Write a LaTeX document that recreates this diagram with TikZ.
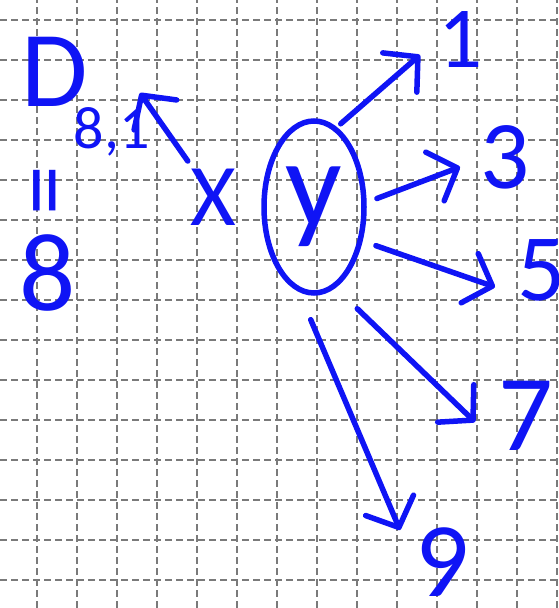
\documentclass[tikz,border=0pt]{standalone}
\usepackage{fontspec}
\setmainfont{Carlito}
\usetikzlibrary{arrows.meta,positioning,shapes.geometric}
\definecolor{ink}{HTML}{0F14F5}
\definecolor{gridgray}{HTML}{7A7A7A}

\begin{document}
\begin{tikzpicture}[x=1pt,y=1pt,
  handtext/.style={text=ink,inner sep=1pt},
  handarrow/.style={ink,line width=5.5pt,line cap=round,-{Straight Barb[length=24pt,width=52pt,round]}}]
\useasboundingbox (0,0) rectangle (558,608);
\fill[white] (0,0) rectangle (558,608);
% squared paper
\foreach \g in {0,...,13}{\draw[gridgray,line width=1.6pt,dash pattern=on 7pt off 4pt] (36.7+40*\g,0)--(36.7+40*\g,608);}
\foreach \g in {0,...,14}{\draw[gridgray,line width=1.6pt,dash pattern=on 7pt off 4pt] (0,588-40*\g)--(558,588-40*\g);}
% the circled y
\node[draw=ink,line width=5.5pt,ellipse,minimum width=100pt,minimum height=172pt,inner sep=0,text=ink,font=\fontsize{125}{125}\selectfont] (y) at (314,401) {y};
% labels
\foreach \n/\t/\px/\py/\s in {one/1/461/568/87, three/3/505/451/97, five/5/542/338/95, seven/7/526/192/108, nine/9/442/46/106, eight/8/48/335/111}
{
  \node[handtext,font=\fontsize{\s}{\s}\selectfont] (\n) at (\px,\py) {\t};
}
\node[handtext,font=\fontsize{88}{88}\selectfont] (x) at (213,411) {X};
\node[handtext,anchor=base west,inner sep=0,font=\fontsize{108}{108}\selectfont] (d) at (21,501) {D\kern-14pt\lower42pt\hbox{\fontsize{60}{60}\selectfont 8,1}};
\node[handtext,rotate=90,font=\fontsize{100}{100}\selectfont] (eq) at (55,417) {=};
% arrow tips
\coordinate (tip1) at (420,553);
\coordinate (tip3) at (460,441);
\coordinate (tip5) at (495,321);
\coordinate (tip7) at (475,186);
\coordinate (tip9) at (400,78);
\coordinate (tipd) at (140,515);
\foreach \ang/\tip/\gap in {74/tip1/5pt, 5/tip3/11pt, -35/tip5/14pt, -75/tip7/30pt, -100/tip9/30pt}{\draw[handarrow,shorten <=\gap] (y.\ang) -- (\tip);}
\draw[handarrow,shorten <=8pt] (x) -- (tipd);
\end{tikzpicture}
\end{document}
